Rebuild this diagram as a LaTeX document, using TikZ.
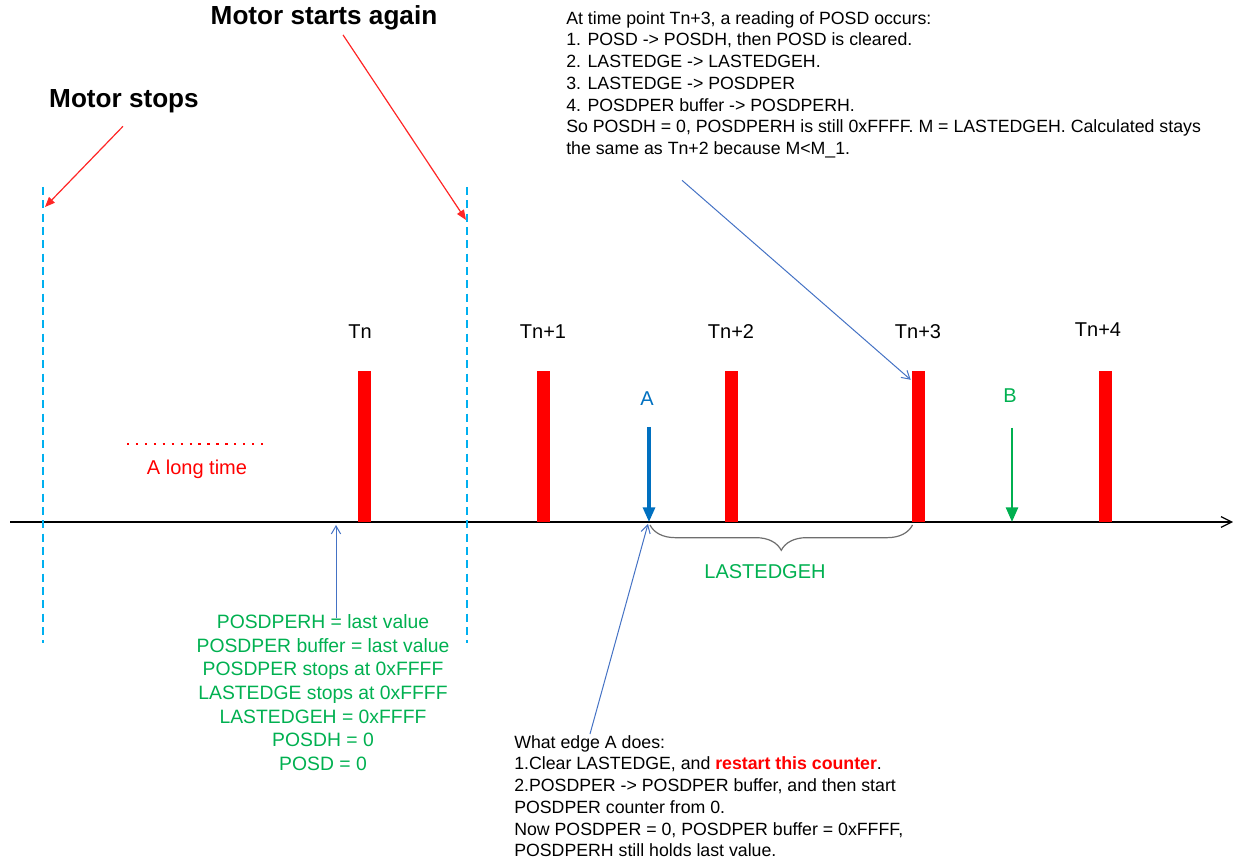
\documentclass[tikz,border=0pt]{standalone}
\usepackage{fontspec}
\setmainfont{Liberation Sans}
\usepackage{xcolor}
\usetikzlibrary{positioning,arrows.meta,calc,decorations.pathreplacing}
\definecolor{barred}{RGB}{255,0,0}
\definecolor{motorcyan}{RGB}{0,176,240}
\definecolor{edgeblue}{RGB}{0,112,192}
\definecolor{linkblue}{RGB}{68,114,196}
\definecolor{regreen}{RGB}{0,176,80}
\definecolor{bracegray}{RGB}{110,110,110}

\begin{document}
\begin{tikzpicture}[x=0.75pt, y=-0.75pt, font=\fontsize{15}{19}\selectfont,
  bar/.style={rectangle, fill=barred, minimum width=9.75pt, minimum height=113pt, inner sep=0pt, anchor=south},
  tick/.style={inner sep=1pt},
  head/.style={font=\fontsize{19.6}{23}\selectfont\bfseries, inner sep=1pt},
  note/.style={font=\fontsize{13.3}{16.3}\selectfont, align=left, inner sep=0pt},
  state/.style={font=\fontsize{14.5}{17.8}\selectfont, text=regreen, align=center, inner sep=0pt},
  stopline/.style={draw=motorcyan, line width=1.6pt, dash pattern=on 6pt off 4pt},
  redarr/.style={draw=barred!85, line width=0.9pt, -{Triangle[length=7.5pt, width=6pt]}},
  link/.style={draw=linkblue, line width=0.75pt, -{Straight Barb[length=6pt, width=7pt]}},
  edgearr/.style={line width=2.3pt, -{Triangle[length=11pt, width=9pt]}}]
% bounding box of the reference
\useasboundingbox (0,0) rectangle (1233,859);
% time axis
\coordinate (t0) at (10,522);
\coordinate (t1) at (1233,522);
\draw[line width=0.9pt, -{Straight Barb[length=8pt, width=8pt]}] (t0) -- (t1);
% position pulses
\node[bar] (tn0) at (364,522) {};
\node[bar] (tn1) at (543.5,522) {};
\node[bar] (tn2) at (731,522) {};
\node[bar] (tn3) at (918.5,522) {};
\node[bar] (tn4) at (1105.5,522) {};
\node[tick] (lb0) at (360,332) {Tn};
\node[tick] (lb1) at (543,332) {Tn+1};
\node[tick] (lb2) at (731,332) {Tn+2};
\node[tick] (lb3) at (918,332) {Tn+3};
\node[tick] (lb4) at (1098,330) {Tn+4};
% motor stop / start
\coordinate (ms0) at (43,187);
\coordinate (ms1) at (43,643);
\coordinate (mr0) at (467,187);
\coordinate (mr1) at (467,643);
\draw[stopline] (ms0) -- (ms1);
\draw[stopline] (mr0) -- (mr1);
\node[head] (stops) at (124,101) {Motor stops};
\node[head] (again) at (324,18) {Motor starts again};
\draw[redarr] ($(stops.south)+(-1,12)$) -- ($(ms0)+(2,20)$);
\draw[redarr] ($(again.south)+(19,3)$) -- ($(mr0)+(-1,33)$);
% long gap
\coordinate (lg0) at (127,444);
\coordinate (lg1) at (265,444);
\draw[barred, line width=1.7pt, dash pattern=on 1.7pt off 5pt] (lg0) -- (lg1);
\node[text=barred, inner sep=1pt] (longt) at (197,469) {A long time};
% edges A and B
\coordinate (pa) at (649,522);
\coordinate (pb) at (1012,522);
\node[text=edgeblue, inner sep=1pt] (la) at (647,399) {A};
\node[text=regreen, inner sep=1pt] (lbB) at (1010,396) {B};
\draw[edgearr, draw=edgeblue, fill=edgeblue] ($(pa)+(0,-95)$) -- (pa);
\draw[edgearr, draw=regreen, fill=regreen, line width=2pt] ($(pb)+(0,-94)$) -- (pb);
% LASTEDGEH span
\draw[bracegray, line width=0.9pt, decorate, decoration={brace, mirror, amplitude=19pt}]
  ($(pa)+(1,3)$) -- ($(tn3.south)+(-6,3)$);
\node[text=regreen, inner sep=1pt] (span) at (765,572) {LASTEDGEH};
% register states after the stop
\node[state, anchor=north] (regs) at (323,614)
  {POSDPERH = last value\\POSDPER buffer = last value\\POSDPER stops at 0xFFFF\\LASTEDGE stops at 0xFFFF\\LASTEDGEH = 0xFFFF\\POSDH = 0\\POSD = 0};
\draw[link] ($(regs.north)+(13,4)$) -- ($(tn0.south)+(-28,3)$);
% notes
\node[note, anchor=north west] (noteA) at (514,735)
  {What edge A does:\\1.Clear LASTEDGE, and \textcolor{barred}{\bfseries restart this counter}.\\2.POSDPER -> POSDPER buffer, and then start\\POSDPER counter from 0.\\Now POSDPER = 0, POSDPER buffer = 0xFFFF,\\POSDPERH still holds last value.};
\draw[link] ($(noteA.north west)+(76,-1)$) -- ($(pa)+(-1,2)$);
\node[note, anchor=north west] (noteB) at (566,11)
  {At time point Tn+3, a reading of POSD occurs:\\1. POSD -> POSDH, then POSD is cleared.\\2. LASTEDGE -> LASTEDGEH.\\3. LASTEDGE -> POSDPER\\4. POSDPER buffer -> POSDPERH.\\So POSDH = 0, POSDPERH is still 0xFFFF. M = LASTEDGEH. Calculated stays\\the same as Tn+2 because M<M\_1.};
\draw[link] ($(noteB.south west)+(116,22)$) -- ($(tn3.north west)+(-1,9)$);
\end{tikzpicture}
\end{document}
